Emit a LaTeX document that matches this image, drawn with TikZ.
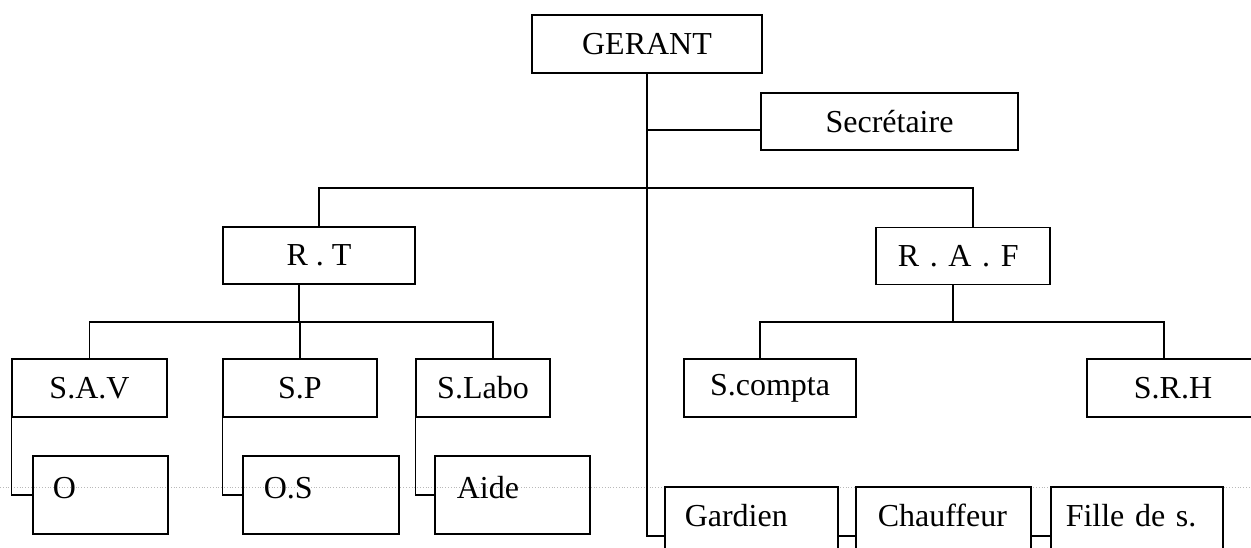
\documentclass[tikz,border=0pt]{standalone}
\usepackage{fontspec}
\setmainfont{Liberation Serif}
\tikzstyle{box}=[draw=black, line width=1.5pt, inner sep=0pt, font=\fontsize{32}{40}\selectfont]
\tikzstyle{sub}=[box, anchor=north west, align=left, text height=43pt, text depth=35pt]
\tikzstyle{low}=[box, anchor=north west, align=left, text height=40pt, text depth=58pt]
\tikzstyle{link}=[line width=1.5pt]

\begin{document}
\begin{tikzpicture}[x=1pt, y=-1pt]
    \useasboundingbox (0,0) rectangle (1251,548);
    \clip (0,0) rectangle (1251,548);
    \draw[gray!55, dotted, line width=0.8pt] (0,487) -- (1251,487);
    % top
    \node[box, minimum width=230pt, minimum height=58pt] (ger) at (647,44) {GERANT};
    \node[box, minimum width=257pt, minimum height=57pt] (sec) at (889.5,121.5) {Secrétaire};
    % responsables
    \node[box, minimum width=192pt, minimum height=57pt] (rt) at (319,255.5) {R . T};
    \node[box, anchor=north west, align=left, inner xsep=22pt, text width=130pt, minimum height=57pt] (raf) at (875,227) {R . A . F};
    % services
    \node[box, minimum width=155pt, minimum height=58pt] (sav) at (89.5,388) {S.A.V};
    \node[box, minimum width=154pt, minimum height=58pt] (sp) at (300,388) {S.P};
    \node[box, minimum width=134pt, minimum height=58pt] (slab) at (483,388) {S.Labo};
    \node[box, minimum width=172pt, minimum height=58pt] (scp) at (770,388) {S.compta};
    \node[box, minimum width=172pt, minimum height=58pt] (srh) at (1173,388) {S.R.H};
    % agents
    \node[sub, inner xsep=20pt, text width=95pt] (o) at (32,455) {O};
    \node[sub, inner xsep=21pt, text width=114pt] (os) at (242,455) {O.S};
    \node[sub, inner xsep=22pt, text width=111pt] (aide) at (434,455) {Aide};
    \node[low, inner xsep=20pt, text width=133pt] (gar) at (664,486) {Gardien};
    \node[low, inner xsep=22pt, text width=131pt] (chf) at (855,486) {Chauffeur};
    \node[low, inner xsep=15pt, text width=142pt] (fil) at (1050,486) {Fille de s.};
    % liaisons
    \coordinate (bar) at (0,188);
    \coordinate (lbar) at (0,322);
    \draw[link] (ger.south) |- (gar.west);
    \draw[link] ([yshift=-8.5pt]sec.west) -| (ger.south);
    \draw[link] (rt.north) -- (rt.north |- bar) -- ([xshift=10pt]raf.north |- bar) -- ([xshift=10pt]raf.north);
    \draw[link] ([xshift=-20pt]rt.south) -- ([xshift=-20pt]rt.south |- lbar);
    \draw[link] (sav.north) |- ([xshift=10pt]slab.north |- lbar) -- ([xshift=10pt]slab.north);
    \draw[link] (sp.north) -- (sp.north |- lbar);
    \draw[link] ([xshift=-10pt]raf.south) -- ([xshift=-10pt]raf.south |- lbar);
    \draw[link] ([xshift=-10pt]scp.north) |- ([xshift=-9pt]srh.north |- lbar) -- ([xshift=-9pt]srh.north);
    \foreach \from/\to in {sav/o, sp/os, slab/aide}
    \draw[link] (\from.south west) |- (\to.west);
    \foreach \from/\to in {gar/chf, chf/fil}
    \draw[link] (\from.east) -- (\to.west);
\end{tikzpicture}
\end{document}
